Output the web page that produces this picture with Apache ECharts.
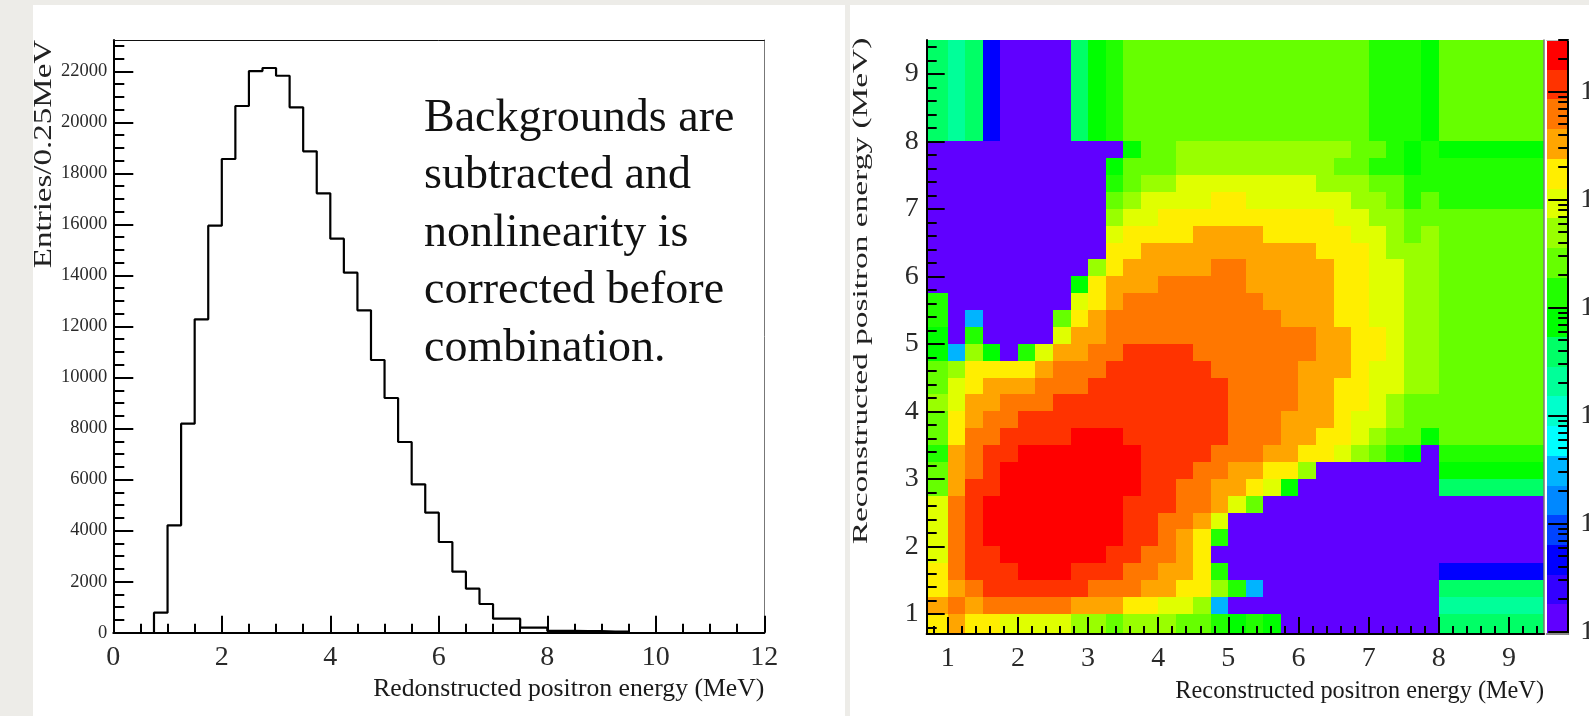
<!DOCTYPE html>
<html>
<head>
<meta charset="utf-8">
<style>
  html, body { margin: 0; padding: 0; background: #edece8; }
  #main { width: 1589px; height: 716px; }
</style>
<script src="https://cdn.jsdelivr.net/npm/echarts@6/dist/echarts.min.js"></script>
</head>
<body>
<div id="main"></div>
<script>
// left histogram, 0.25 MeV bins starting at 0.75 MeV
var histStart = 0.75;
var histBinWidth = 0.25;
var histValues = [784, 4206, 8190, 12280, 15950, 18562, 20639, 22010, 22128, 21826, 20587, 18863,
  17218, 15439, 14107, 12633, 10686, 9197, 7473, 5815, 4702, 3554, 2390, 1724, 1125, 549, 549,
  196, 196, 70, 70, 60, 60, 40, 40];
var histXLabels = [0, 2, 4, 6, 8, 10, 12];
var histYLabels = [0, 2000, 4000, 6000, 8000, 10000, 12000, 14000, 16000, 18000, 20000, 22000];
var histNote = ['Backgrounds are', 'subtracted and', 'nonlinearity is', 'corrected before', 'combination.'];

// right matrix: bin edges are the same on both axes
var heatEdges = [0.7, 1, 1.25, 1.5, 1.75, 2, 2.25, 2.5, 2.75, 3, 3.25, 3.5, 3.75, 4, 4.25, 4.5, 4.75,
  5, 5.25, 5.5, 5.75, 6, 6.25, 6.5, 6.75, 7, 7.25, 7.5, 7.75, 8, 9.5];
var heatLabels = [1, 2, 3, 4, 5, 6, 7, 8, 9];

// colour level per cell, first line is the lowest row (0.7 - 1 MeV)
var heatLevels = [
  [15,16,15,15,14,14,14,14,13,13,12,13,13,13,12,12,11,10,11,10,0,0,0,0,0,0,0,0,0,9],
  [16,17,16,17,17,17,17,17,16,16,16,15,15,14,14,13,5,0,0,0,0,0,0,0,0,0,0,0,0,8],
  [15,16,17,18,18,18,18,18,18,17,17,17,16,16,15,15,13,11,5,0,0,0,0,0,0,0,0,0,0,9],
  [15,17,18,18,18,19,19,19,18,18,18,17,17,16,16,15,11,0,0,0,0,0,0,0,0,0,0,0,0,2],
  [14,17,18,18,19,19,19,19,19,19,18,18,17,17,16,15,0,0,0,0,0,0,0,0,0,0,0,0,0,0],
  [14,17,18,19,19,19,19,19,19,19,19,18,18,17,16,15,11,0,0,0,0,0,0,0,0,0,0,0,0,0],
  [14,17,18,19,19,19,19,19,19,19,19,18,18,17,17,16,14,0,0,0,0,0,0,0,0,0,0,0,0,0],
  [14,17,18,19,19,19,19,19,19,19,19,18,18,18,17,17,16,14,12,0,0,0,0,0,0,0,0,0,0,0],
  [12,16,18,18,19,19,19,19,19,19,19,19,18,18,17,17,16,16,15,14,10,0,0,0,0,0,0,0,0,9],
  [12,16,17,18,19,19,19,19,19,19,19,19,18,18,18,17,17,16,16,15,15,13,0,0,0,0,0,0,0,10],
  [11,16,17,18,18,19,19,19,19,19,19,19,18,18,18,18,17,17,17,16,16,15,15,14,13,12,11,10,0,11],
  [12,15,17,17,18,18,18,18,19,19,19,18,18,18,18,18,18,17,17,17,16,16,15,15,14,13,12,12,10,12],
  [12,15,16,17,17,18,18,18,18,18,18,18,18,18,18,18,18,17,17,17,16,16,16,15,14,14,13,12,12,12],
  [13,14,16,16,17,17,17,18,18,18,18,18,18,18,18,18,18,17,17,17,17,16,16,15,15,14,13,12,12,12],
  [12,14,15,16,16,16,17,17,17,18,18,18,18,18,18,18,18,17,17,17,17,16,16,15,15,14,14,13,13,12],
  [12,13,15,15,15,15,16,17,17,17,18,18,18,18,18,18,17,17,17,17,17,16,16,16,15,14,14,13,13,12],
  [10,5,13,10,0,11,14,16,16,17,17,18,18,18,18,17,17,17,17,17,17,17,16,16,15,15,14,13,13,12],
  [10,0,11,0,0,0,0,14,16,16,17,17,17,17,17,17,17,17,17,17,17,17,16,16,15,15,14,13,13,12],
  [11,0,5,0,0,0,0,12,15,16,17,17,17,17,17,17,17,17,17,17,16,16,16,15,15,14,14,13,13,12],
  [11,0,0,0,0,0,0,0,14,15,16,17,17,17,17,17,17,17,17,16,16,16,16,15,15,14,14,13,13,12],
  [0,0,0,0,0,0,0,0,10,15,16,16,16,17,17,17,17,17,16,16,16,16,16,15,15,14,14,13,13,12],
  [0,0,0,0,0,0,0,0,0,13,15,16,16,16,16,16,17,17,16,16,16,16,16,15,15,14,14,13,13,12],
  [0,0,0,0,0,0,0,0,0,0,15,15,16,16,16,16,16,16,16,16,16,16,15,15,15,14,13,13,13,12],
  [0,0,0,0,0,0,0,0,0,0,14,15,15,15,15,16,16,16,16,15,15,15,15,15,14,14,13,12,13,12],
  [0,0,0,0,0,0,0,0,0,0,13,14,14,15,15,15,15,15,15,15,15,15,15,14,14,13,13,12,12,12],
  [0,0,0,0,0,0,0,0,0,0,12,13,14,14,14,14,15,15,14,14,14,14,14,14,13,13,12,11,12,11],
  [0,0,0,0,0,0,0,0,0,0,11,12,13,13,14,14,14,14,14,14,14,14,13,13,13,12,12,11,11,11],
  [0,0,0,0,0,0,0,0,0,0,10,12,12,12,13,13,13,13,13,13,13,13,13,12,12,11,11,10,11,11],
  [0,0,0,0,0,0,0,0,0,0,0,10,12,12,13,13,13,13,13,13,13,13,13,13,12,12,11,10,11,10],
  [9,8,9,2,0,0,0,0,9,10,11,12,12,12,12,12,12,12,12,12,12,12,12,12,12,11,11,11,10,12]
];

// colour scale, lowest level first
var palette = ['#6000ff', '#3300ff', '#0000ff', '#0044ff', '#0088ff', '#00b4ff', '#00ffff', '#00ffcc',
  '#00ff99', '#00ff66', '#00ff00', '#22ff00', '#66ff00', '#99ff00', '#e0ff00', '#ffee00',
  '#ffa500', '#ff7700', '#ff3300', '#ff0000'];
var barMin = 0.95;
var barMax = 301000;
var barMajor = [1, 10, 100, 1000, 10000, 100000];

var serif = '"Liberation Serif"';

// tick lists for the minor marks
function stepList(from, to, step) {
  var out = [];
  for (var v = from; v <= to + step / 100; v += step) out.push(+v.toFixed(2));
  return out;
}
var barMinor = [];
barMajor.forEach(function (d) {
  [2, 3, 4, 5, 6, 7, 8, 9].forEach(function (m) {
    if (d * m < barMax) barMinor.push(d * m);
  });
});

// histogram outline as step points
var histLine = [[histStart, 0]];
histValues.forEach(function (v, i) {
  histLine.push([histStart + i * histBinWidth, v]);
});
histLine.push([histStart + histValues.length * histBinWidth, 0]);

var heatCells = [];
heatLevels.forEach(function (row, r) {
  row.forEach(function (level, c) {
    heatCells.push([heatEdges[c], heatEdges[c + 1], heatEdges[r], heatEdges[r + 1], level]);
  });
});

var barCells = palette.map(function (c, i) {
  var ratio = barMax / barMin;
  return [0, 1, barMin * Math.pow(ratio, i / palette.length), barMin * Math.pow(ratio, (i + 1) / palette.length), i];
});

function renderCell(params, api) {
  var a = api.coord([api.value(0), api.value(3)]);
  var b = api.coord([api.value(1), api.value(2)]);
  var x = Math.round(a[0]), y = Math.round(a[1]);
  return {
    type: 'rect',
    shape: { x: x, y: y, width: Math.round(b[0]) - x, height: Math.round(b[1]) - y },
    style: { fill: palette[api.value(4)] }
  };
}

function plainNumber(v) {
  return String(v);
}

// axis with long ticks and labels
function labelAxis(gridIndex, position, min, max, ticks, tickLen, font, margin, width) {
  return {
    type: 'value', gridIndex: gridIndex, position: position, min: min, max: max, z: 5,
    splitLine: { show: false },
    axisLine: { show: true, onZero: false, lineStyle: { color: '#000', width: width } },
    axisTick: { show: true, inside: true, length: tickLen, customValues: ticks, lineStyle: { color: '#000', width: 2 } },
    axisLabel: { show: true, customValues: ticks, margin: margin, color: '#2a2a2a', fontFamily: serif, fontSize: font, formatter: plainNumber }
  };
}
// same scale again, only short ticks
function tickAxis(gridIndex, position, min, max, ticks, tickLen) {
  return {
    type: 'value', gridIndex: gridIndex, position: position, min: min, max: max, z: 5,
    splitLine: { show: false },
    axisLine: { show: false, onZero: false },
    axisTick: { show: true, inside: true, length: tickLen, customValues: ticks, lineStyle: { color: '#000', width: 2 } },
    axisLabel: { show: false }
  };
}
// plain edge of the frame
function edgeAxis(gridIndex, position, min, max, color, width) {
  return {
    type: 'value', gridIndex: gridIndex, position: position, min: min, max: max, z: 5,
    splitLine: { show: false },
    axisLine: { show: true, onZero: false, lineStyle: { color: color, width: width } },
    axisTick: { show: false },
    axisLabel: { show: false }
  };
}

var histX = labelAxis(0, 'bottom', 0, 12, histXLabels, 17, 28, 11, 2);
histX.name = 'Redonstructed positron energy (MeV)';
histX.nameLocation = 'end';
histX.nameGap = 0;
histX.nameMoveOverlap = false;
histX.nameTextStyle = { align: 'right', verticalAlign: 'top', padding: [44, 0, 0, 0], color: '#1a1a1a', fontFamily: serif, fontSize: 25.7 };

var heatX = labelAxis(1, 'bottom', 0.7, 9.5, heatLabels, 17, 28, 11, 2);
heatX.name = 'Reconstructed positron energy (MeV)';
heatX.nameLocation = 'end';
heatX.nameGap = 0;
heatX.nameMoveOverlap = false;
heatX.nameTextStyle = { align: 'right', verticalAlign: 'top', padding: [46, 0, 0, 0], color: '#1a1a1a', fontFamily: serif, fontSize: 24.3 };

var barY = {
  type: 'log', logBase: 10, gridIndex: 2, position: 'right', min: barMin, max: barMax, z: 5,
  splitLine: { show: false },
  axisLine: { show: true, onZero: false, lineStyle: { color: '#000', width: 2 } },
  axisTick: { show: true, inside: true, length: 20, customValues: barMajor, lineStyle: { color: '#000', width: 2 } },
  axisLabel: {
    show: true, customValues: barMajor, margin: 12, color: '#2a2a2a', fontFamily: serif, fontSize: 28,
    formatter: function () { return '10'; }
  }
};
var barYMinor = {
  type: 'log', logBase: 10, gridIndex: 2, position: 'right', min: barMin, max: barMax, z: 5,
  splitLine: { show: false },
  axisLine: { show: false, onZero: false },
  axisTick: { show: true, inside: true, length: 10, customValues: barMinor, lineStyle: { color: '#000', width: 2 } },
  axisLabel: { show: false }
};

var option = {
  backgroundColor: '#edece8',
  animation: false,
  grid: [
    { left: 113.3, top: 40, width: 651, height: 592.7, outerBoundsMode: 'none' },
    { left: 926.7, top: 40, width: 617.3, height: 594, outerBoundsMode: 'none' },
    { left: 1546.7, top: 40, width: 21.5, height: 594, outerBoundsMode: 'none' }
  ],
  xAxis: [
    histX,
    tickAxis(0, 'bottom', 0, 12, stepList(0.5, 11.5, 0.5), 9),
    edgeAxis(0, 'top', 0, 12, '#111', 1),
    heatX,
    tickAxis(1, 'bottom', 0.7, 9.5, stepList(0.8, 9.4, 0.2), 8),
    edgeAxis(2, 'bottom', 0, 1, '#888', 2),
    edgeAxis(2, 'top', 0, 1, '#bbb', 1)
  ],
  yAxis: [
    labelAxis(0, 'left', 0, 23226, histYLabels, 20, 18.5, 6, 2),
    tickAxis(0, 'left', 0, 23226, stepList(500, 23000, 500), 11),
    edgeAxis(0, 'right', 0, 23226, '#777', 1),
    labelAxis(1, 'left', 0.7, 9.5, heatLabels, 18, 28, 8, 2),
    tickAxis(1, 'left', 0.7, 9.5, stepList(0.8, 9.4, 0.2), 10),
    edgeAxis(1, 'right', 0.7, 9.5, '#777', 1.5),
    barY,
    barYMinor
  ],
  graphic: [
    { type: 'rect', z: -10, shape: { x: 33, y: 5, width: 812, height: 711 }, style: { fill: '#fff' } },
    { type: 'rect', z: -10, shape: { x: 850, y: 5, width: 739, height: 711 }, style: { fill: '#fff' } },
    {
      type: 'text', z: 10, x: 424, y: 90,
      style: { text: histNote.join('\n'), fill: '#111', font: '46px ' + serif, lineHeight: 57.5 }
    },
    {
      type: 'text', z: 10, x: 44, y: 154, rotation: Math.PI / 2, scaleX: 1.27,
      style: { text: 'Entries/0.25MeV', fill: '#222', font: '26px ' + serif, align: 'center', verticalAlign: 'middle' }
    },
    {
      type: 'text', z: 10, x: 861, y: 291, rotation: Math.PI / 2, scaleX: 1.59,
      style: { text: 'Reconstructed positron energy (MeV)', fill: '#222', font: '21px ' + serif, align: 'center', verticalAlign: 'middle' }
    }
  ],
  series: [
    {
      type: 'line', xAxisIndex: 0, yAxisIndex: 0, step: 'end', showSymbol: false, z: 2,
      lineStyle: { color: '#000', width: 2.2 },
      data: histLine
    },
    {
      type: 'custom', xAxisIndex: 3, yAxisIndex: 3, z: 0, renderItem: renderCell,
      encode: { x: [0, 1], y: [2, 3] },
      data: heatCells
    },
    {
      type: 'custom', xAxisIndex: 5, yAxisIndex: 6, z: 0, renderItem: renderCell,
      encode: { x: [0, 1], y: [2, 3] },
      data: barCells
    }
  ]
};

var myChart = echarts.init(document.getElementById('main'), null, { renderer: 'canvas' });
myChart.setOption(option);
</script>
</body>
</html>
